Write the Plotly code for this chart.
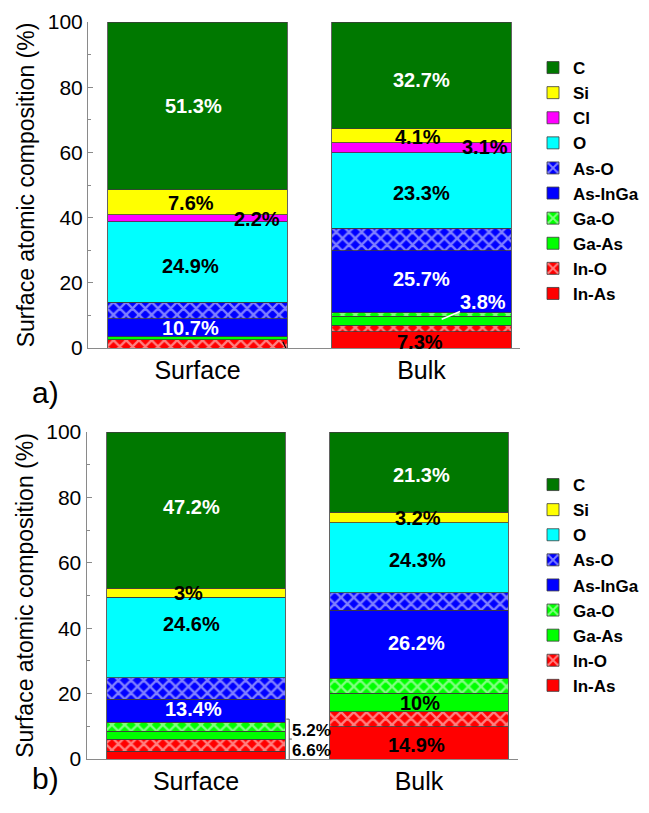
import plotly.graph_objects as go

FONT = "Liberation Sans, Arial, sans-serif"

categories = ["Surface", "Bulk"]
y_ticks = [0, 20, 40, 60, 80, 100]

# ---- panel a) values (%), [Surface, Bulk] ----
a_in_as = [0.0, 5.0]
a_in_o = [2.6, 2.0]
a_ga_as = [0.8, 2.8]
a_ga_o = [0.0, 1.0]
a_as_inga = [5.5, 19.0]
a_as_o = [5.1, 6.9]
a_o = [24.8, 23.2]
a_cl = [2.0, 3.1]
a_si = [7.7, 4.2]
a_c = [51.5, 32.8]

# ---- panel b) values (%), [Surface, Bulk] ----
b_in_as = [2.4, 9.9]
b_in_o = [3.7, 4.6]
b_ga_as = [2.4, 5.6]
b_ga_o = [2.8, 4.6]
b_as_inga = [6.9, 20.8]
b_as_o = [6.6, 5.4]
b_o = [24.6, 21.4]
b_si = [2.8, 3.1]
b_c = [47.8, 24.6]

# ---- label texts as printed on the figure ----
a_labels = ["51.3%", "7.6%", "2.2%", "24.9%", "10.7%", "0.8%", "2.5%",
            "32.7%", "4.1%", "3.1%", "23.3%", "25.7%", "3.8%", "7.3%"]
b_labels = ["47.2%", "3%", "24.6%", "13.4%", "5.2%", "6.6%",
            "21.3%", "3.2%", "24.3%", "26.2%", "10%", "14.9%"]

GREEN = "#007800"
YELLOW = "#FFFF00"
MAGENTA = "#FF00FF"
CYAN = "#00FFFF"
BLUE = "#0000FF"
LIME = "#00FF00"
RED = "#FF0000"

styles = {
    "In-As": (RED, False),
    "In-O": (RED, True),
    "Ga-As": (LIME, False),
    "Ga-O": (LIME, True),
    "As-InGa": (BLUE, False),
    "As-O": (BLUE, True),
    "O": (CYAN, False),
    "Cl": (MAGENTA, False),
    "Si": (YELLOW, False),
    "C": (GREEN, False),
}

series_a = [("In-As", a_in_as), ("In-O", a_in_o), ("Ga-As", a_ga_as), ("Ga-O", a_ga_o),
            ("As-InGa", a_as_inga), ("As-O", a_as_o), ("O", a_o), ("Cl", a_cl),
            ("Si", a_si), ("C", a_c)]
series_b = [("In-As", b_in_as), ("In-O", b_in_o), ("Ga-As", b_ga_as), ("Ga-O", b_ga_o),
            ("As-InGa", b_as_inga), ("As-O", b_as_o), ("O", b_o),
            ("Si", b_si), ("C", b_c)]

fig = go.Figure()


def add_series(series, xa, ya, legend):
    for name, vals in series:
        color, hatched = styles[name]
        marker = dict(color=color, line=dict(color="#3c3c3c", width=0.8))
        if hatched:
            marker["pattern"] = dict(shape="x", fgcolor="white", bgcolor=color,
                                     fillmode="overlay", size=9, solidity=0.45)
        fig.add_trace(go.Bar(x=categories, y=vals, name=name, marker=marker,
                             xaxis=xa, yaxis=ya, legend=legend,
                             hoverinfo="name+y"))


add_series(series_a, "x", "y", "legend")
add_series(series_b, "x2", "y2", "legend2")

# ---- geometry (pixels -> paper) ----
W, H = 649, 813


def py(v):
    return 1 - v / H


axis_common = dict(showline=True, linecolor="#8a8a8a", linewidth=1, showgrid=False,
                   zeroline=False, mirror=False, automargin=False)
xcommon = dict(axis_common, type="category", ticks="",
               tickfont=dict(family=FONT, size=25, color="black"))
ycommon = dict(axis_common, range=[0, 100], tickvals=y_ticks, ticks="inside", ticklen=5,
               tickcolor="#8a8a8a",
               minor=dict(dtick=10, ticks="inside", ticklen=3, tickcolor="#8a8a8a"),
               tickfont=dict(family=FONT, size=21, color="black"),
               title=dict(text="Surface atomic composition (%)",
                          font=dict(family=FONT, size=23, color="black"), standoff=6))

fig.update_layout(
    template="none",
    width=W, height=H, margin=dict(l=0, r=0, t=0, b=0, autoexpand=False),
    paper_bgcolor="white", plot_bgcolor="white",
    barmode="stack", bargap=0.2, showlegend=True,
    font=dict(family=FONT, color="black"),
    xaxis=dict(xcommon, domain=[88 / W, 520 / W], range=[-0.4888, 1.4397], anchor="y"),
    yaxis=dict(ycommon, domain=[py(348), py(22)], anchor="x"),
    xaxis2=dict(xcommon, domain=[86.5 / W, 517.5 / W], range=[-0.491, 1.4417], anchor="y2"),
    yaxis2=dict(ycommon, domain=[py(759), py(432)], anchor="x2"),
    legend=dict(x=533 / W, xanchor="left", y=py(50), yanchor="top", traceorder="reversed",
                font=dict(family=FONT, size=17, color="black", weight="bold"),
                bgcolor="rgba(0,0,0,0)", borderwidth=0),
    legend2=dict(x=533 / W, xanchor="left", y=py(467), yanchor="top", traceorder="reversed",
                 font=dict(family=FONT, size=17, color="black", weight="bold"),
                 bgcolor="rgba(0,0,0,0)", borderwidth=0),
)

# ---- value labels (positions in data coordinates) ----
a_pos = [(-0.02, 74.2, "white", 20), (-0.03, 44.5, "black", 20), (0.264, 39.6, "black", 20),
         (-0.03, 25.2, "black", 20), (-0.03, 6.0, "white", 20), (0.493, -5.5, "black", 18),
         (0.338, -10.3, "black", 18),
         (1.002, 82.2, "white", 20), (0.984, 64.8, "black", 20), (1.283, 61.7, "black", 20),
         (1.0, 47.4, "black", 20), (1.0, 21.1, "white", 20), (1.275, 14.2, "white", 20),
         (0.993, 1.9, "black", 20)]
b_pos = [(-0.02, 77.0, "white", 20), (-0.035, 50.7, "black", 20), (-0.02, 41.3, "black", 20),
         (-0.01, 15.3, "white", 20), (0.516, 8.7, "black", 17), (0.516, 2.75, "black", 17),
         (1.009, 86.9, "white", 20), (0.997, 73.6, "black", 20), (0.994, 60.9, "black", 20),
         (0.99, 35.4, "white", 20), (1.004, 17.0, "black", 20), (0.99, 4.3, "black", 20)]

for txt, (x, y, c, s) in zip(a_labels, a_pos):
    fig.add_annotation(x=x, y=y, xref="x", yref="y", text="<b>" + txt + "</b>",
                       showarrow=False, font=dict(family=FONT, size=s, color=c))
for txt, (x, y, c, s) in zip(b_labels, b_pos):
    fig.add_annotation(x=x, y=y, xref="x2", yref="y2", text="<b>" + txt + "</b>",
                       showarrow=False, font=dict(family=FONT, size=s, color=c))

# leader lines
line_k = dict(color="black", width=1.2)
fig.add_shape(type="line", xref="x", yref="y", x0=0.381, y0=1.9, x1=0.410, y1=-2.2, line=line_k)
fig.add_shape(type="line", xref="x", yref="y", x0=0.335, y0=-0.8, x1=0.335, y1=-5.8, line=line_k)
fig.add_shape(type="line", xref="x", yref="y", x0=1.090, y0=8.8, x1=1.172, y1=11.2,
              line=dict(color="white", width=1.5))
fig.add_shape(type="line", xref="x2", yref="y2", x0=0.418, y0=12.2, x1=0.418, y1=0,
              line=dict(color="#555555", width=1))
fig.add_shape(type="line", xref="x2", yref="y2", x0=0.405, y0=12.2, x1=0.418, y1=12.2,
              line=dict(color="#555555", width=1))
fig.add_shape(type="line", xref="x2", yref="y2", x0=0.418, y0=6.1, x1=0.430, y1=6.1,
              line=dict(color="#555555", width=1))

# panel letters
fig.add_annotation(x=30 / W, y=py(392), xref="paper", yref="paper", text="a)",
                   showarrow=False, font=dict(family=FONT, size=30, color="black"))
fig.add_annotation(x=30 / W, y=py(797), xref="paper", yref="paper", text="b)",
                   showarrow=False, font=dict(family=FONT, size=30, color="black"))

fig.write_html("out.html", config={"displayModeBar": False},
               post_script="document.body.style.margin='0px';")
